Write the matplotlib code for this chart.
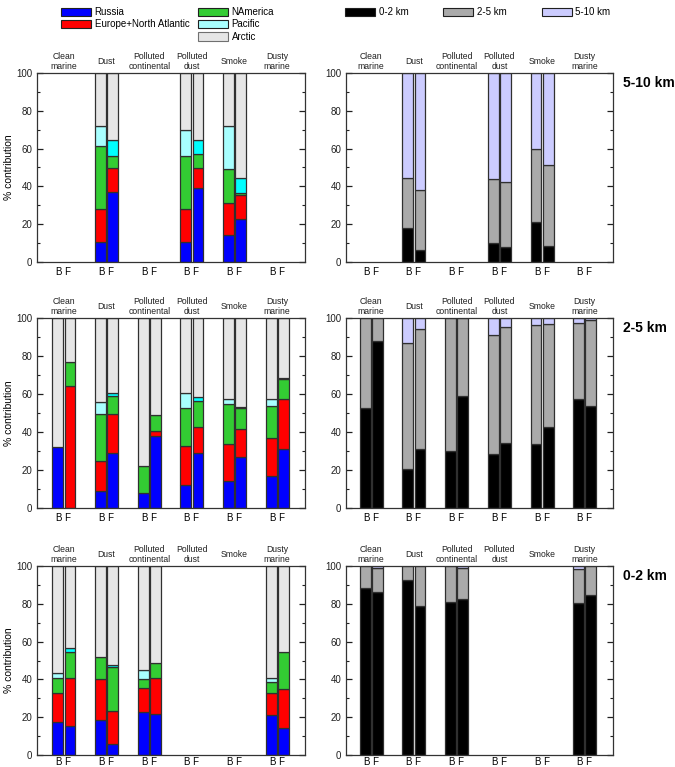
import numpy as np
import matplotlib
matplotlib.use('Agg')
import matplotlib.pyplot as plt
from matplotlib.patches import Patch
from matplotlib.ticker import MultipleLocator

plt.rcParams['font.family'] = ['Liberation Sans', 'DejaVu Sans']
nan = np.nan

categories = ['Clean\nmarine', 'Dust', 'Polluted\ncontinental', 'Polluted\ndust', 'Smoke', 'Dusty\nmarine']
levels = ['5-10 km', '2-5 km', '0-2 km']
sources = ['Russia', 'Europe+North Atlantic', 'NAmerica', 'Pacific', 'Arctic']
alt_bins = ['0-2 km', '2-5 km', '5-10 km']
bar_label = 'B F'

# ---- source contributions (%), per level, B and F ----
# 5-10 km
russia_510_B = [nan, 10.6, nan, 10.6, 14.1, nan]
europe_510_B = [nan, 17.2, nan, 17.7, 16.9, nan]
namer_510_B = [nan, 33.5, nan, 28.0, 18.0, nan]
pacific_510_B = [nan, 10.9, nan, 13.7, 23.2, nan]
arctic_510_B = [nan, 27.8, nan, 30.0, 27.8, nan]
russia_510_F = [nan, 37.3, nan, 39.4, 22.5, nan]
europe_510_F = [nan, 12.2, nan, 10.6, 12.9, nan]
namer_510_F = [nan, 6.5, nan, 7.4, 0.9, nan]
pacific_510_F = [nan, 8.4, nan, 7.0, 7.9, nan]
arctic_510_F = [nan, 35.6, nan, 35.6, 55.8, nan]
# 2-5 km
russia_25_B = [32.1, 9.0, 7.9, 12.1, 14.0, 17.0]
europe_25_B = [0.0, 15.9, 0.0, 20.5, 19.9, 20.0]
namer_25_B = [0.0, 24.6, 14.0, 20.0, 20.8, 16.9]
pacific_25_B = [0.0, 6.3, 0.0, 7.9, 2.8, 3.6]
arctic_25_B = [67.9, 44.2, 78.1, 39.5, 42.5, 42.5]
russia_25_F = [0.0, 29.1, 38.1, 29.1, 27.0, 31.2]
europe_25_F = [64.2, 20.4, 2.4, 13.4, 14.6, 26.3]
namer_25_F = [12.8, 9.5, 8.3, 14.0, 11.0, 10.4]
pacific_25_F = [0.0, 1.4, 0.0, 1.7, 0.6, 0.3]
arctic_25_F = [23.0, 39.6, 51.2, 41.8, 46.8, 31.8]
# 0-2 km
russia_02_B = [17.7, 18.6, 23.0, nan, nan, 21.2]
europe_02_B = [15.3, 21.6, 12.4, nan, nan, 11.4]
namer_02_B = [7.9, 11.6, 5.0, nan, nan, 6.0]
pacific_02_B = [2.6, 0.0, 4.7, nan, nan, 2.3]
arctic_02_B = [56.5, 48.2, 54.9, nan, nan, 59.1]
russia_02_F = [15.6, 5.6, 21.6, nan, nan, 14.4]
europe_02_F = [25.1, 17.6, 18.9, nan, nan, 20.7]
namer_02_F = [13.7, 23.6, 8.1, nan, nan, 19.3]
pacific_02_F = [2.4, 0.6, 0.0, nan, nan, 0.0]
arctic_02_F = [43.2, 52.6, 51.4, nan, nan, 45.6]

# ---- altitude-of-origin contributions (%) ----
low_510_B = [nan, 18.1, nan, 9.9, 21.0, nan]
mid_510_B = [nan, 26.1, nan, 33.8, 39.0, nan]
high_510_B = [nan, 55.8, nan, 56.3, 40.0, nan]
low_510_F = [nan, 6.3, nan, 7.9, 8.5, nan]
mid_510_F = [nan, 31.9, nan, 34.2, 42.9, nan]
high_510_F = [nan, 61.8, nan, 57.9, 48.6, nan]
low_25_B = [52.5, 20.5, 30.0, 28.4, 33.9, 57.5]
mid_25_B = [47.5, 66.5, 70.0, 62.5, 62.2, 40.0]
high_25_B = [0.0, 13.0, 0.0, 9.1, 3.9, 2.5]
low_25_F = [87.7, 31.2, 59.1, 34.0, 42.6, 53.7]
mid_25_F = [12.3, 63.2, 40.9, 61.1, 54.4, 45.4]
high_25_F = [0.0, 5.6, 0.0, 4.9, 3.0, 0.9]
low_02_B = [88.6, 92.8, 81.2, nan, nan, 80.4]
mid_02_B = [11.4, 7.2, 18.8, nan, nan, 18.0]
high_02_B = [0.0, 0.0, 0.0, nan, nan, 1.6]
low_02_F = [86.1, 78.6, 82.5, nan, nan, 84.7]
mid_02_F = [12.7, 21.4, 16.3, nan, nan, 15.3]
high_02_F = [1.2, 0.0, 1.2, nan, nan, 0.0]

src_data = [
    ([russia_510_B, europe_510_B, namer_510_B, pacific_510_B, arctic_510_B],
     [russia_510_F, europe_510_F, namer_510_F, pacific_510_F, arctic_510_F]),
    ([russia_25_B, europe_25_B, namer_25_B, pacific_25_B, arctic_25_B],
     [russia_25_F, europe_25_F, namer_25_F, pacific_25_F, arctic_25_F]),
    ([russia_02_B, europe_02_B, namer_02_B, pacific_02_B, arctic_02_B],
     [russia_02_F, europe_02_F, namer_02_F, pacific_02_F, arctic_02_F]),
]
alt_data = [
    ([low_510_B, mid_510_B, high_510_B], [low_510_F, mid_510_F, high_510_F]),
    ([low_25_B, mid_25_B, high_25_B], [low_25_F, mid_25_F, high_25_F]),
    ([low_02_B, mid_02_B, high_02_B], [low_02_F, mid_02_F, high_02_F]),
]

src_colors_B = ['#0000FF', '#FF0000', '#33CC33', '#A8FFFF', '#E6E6E6']
src_colors_F = ['#0000FF', '#FF0000', '#33CC33', '#00FFFF', '#E6E6E6']
alt_colors = ['#000000', '#AAAAAA', '#CCCCFF']

W, H = 675, 767
fig = plt.figure(figsize=(W / 100, H / 100), dpi=100)


def add_ax(x0, y0, x1, y1):
    return fig.add_axes([x0 / W, 1 - y1 / H, (x1 - x0) / W, (y1 - y0) / H])


rows_y = [(73, 262), (318, 508), (566, 755)]
cols_x = [(37, 305), (346, 613)]
xlims = [(0.37, 6.65), (0.41, 6.66)]
groups = np.arange(1, 7)
off = 0.143
bw = 0.255
edge = '#303030'


def stack(ax, series_list, colors, xpos):
    bottom = np.zeros(len(xpos))
    for vals, c in zip(series_list, colors):
        v = np.array(vals, dtype=float)
        for i in range(len(xpos)):
            if np.isnan(v[i]) or v[i] <= 0:
                continue
            ax.bar(xpos[i], v[i], bottom=bottom[i], width=bw, color=c,
                   edgecolor=edge, linewidth=0.9)
        bottom = bottom + np.nan_to_num(v)


def style(ax, col, xpad):
    ax.set_xlim(*xlims[col])
    ax.set_ylim(0, 100)
    ax.yaxis.set_major_locator(MultipleLocator(20))
    ax.yaxis.set_minor_locator(MultipleLocator(10))
    ax.tick_params(axis='y', which='both', direction='in', left=True, right=True,
                   labelsize=7, colors='#202020')
    ax.tick_params(axis='y', which='major', length=4, width=0.9)
    ax.tick_params(axis='y', which='minor', length=2.5, width=0.8)
    ax.set_xticks(groups)
    ax.set_xticklabels([bar_label] * 6)
    ax.tick_params(axis='x', length=0, labelsize=7, pad=xpad)
    for s in ax.spines.values():
        s.set_color('#333333')
        s.set_linewidth(0.9)
    for g, lab in zip(groups, categories):
        ax.annotate(lab, xy=(g, 1), xycoords=('data', 'axes fraction'),
                    xytext=(0, 8.5), textcoords='offset points',
                    ha='center', va='center', fontsize=6.2, linespacing=1.15,
                    color='#202020')


for r in range(3):
    y0, y1 = rows_y[r]
    axL = add_ax(cols_x[0][0], y0, cols_x[0][1], y1)
    axR = add_ax(cols_x[1][0], y0, cols_x[1][1], y1)
    sB, sF = src_data[r]
    stack(axL, sB, src_colors_B, groups - off)
    stack(axL, sF, src_colors_F, groups + off)
    aB, aF = alt_data[r]
    stack(axR, aB, alt_colors, groups - off)
    stack(axR, aF, alt_colors, groups + off)
    xpad = 3.5 if r < 2 else 1.5
    style(axL, 0, xpad)
    style(axR, 1, xpad)
    axL.set_ylabel('% contribution', fontsize=7.5, labelpad=1.5)
    fig.text(623 / W, 1 - (y0 + 10) / H, levels[r], fontsize=10,
             fontweight='bold', ha='left', va='center')

# legends
h1 = [Patch(facecolor=src_colors_B[i], edgecolor='#202020', linewidth=0.8) for i in range(2)]
fig.legend(h1, sources[:2], loc='upper left', bbox_to_anchor=(61 / W, 1 - 7 / H),
           frameon=False, fontsize=7, handlelength=3.1, handleheight=0.9,
           handletextpad=0.35, labelspacing=0.25, borderpad=0, borderaxespad=0)
h2 = [Patch(facecolor=src_colors_B[i], edgecolor='#202020' if i < 4 else '#707070',
            linewidth=0.8) for i in range(2, 5)]
fig.legend(h2, sources[2:], loc='upper left', bbox_to_anchor=(198 / W, 1 - 7 / H),
           frameon=False, fontsize=7, handlelength=3.1, handleheight=0.9,
           handletextpad=0.35, labelspacing=0.25, borderpad=0, borderaxespad=0)
h3 = [Patch(facecolor=c, edgecolor='#202020', linewidth=0.8) for c in alt_colors]
fig.legend(h3, alt_bins, loc='upper left', bbox_to_anchor=(345 / W, 1 - 7 / H),
           frameon=False, fontsize=7, ncol=3, handlelength=3.1, handleheight=0.9,
           handletextpad=0.35, columnspacing=3.6, borderpad=0, borderaxespad=0)

fig.savefig('out.png', dpi=100)
